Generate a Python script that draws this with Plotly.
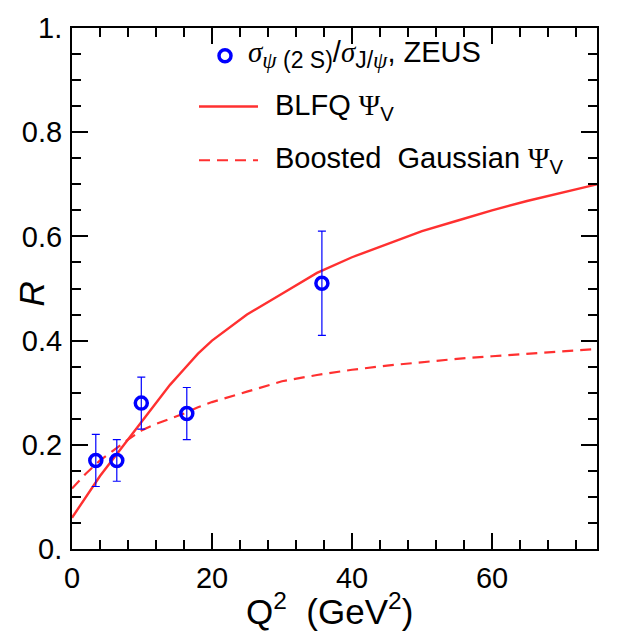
import plotly.graph_objects as go

# ---- data ----
q2_data = [3.4, 6.4, 9.9, 16.4, 35.7]
r_data = [0.17, 0.17, 0.28, 0.26, 0.51]
r_err_plus = [0.05, 0.04, 0.05, 0.05, 0.10]
r_err_minus = [0.05, 0.04, 0.05, 0.05, 0.10]

q2_curve = [0, 2, 4, 6, 8, 10, 12, 14, 16, 18, 20, 25, 30, 35, 40, 45, 50, 55, 60, 65, 70, 75]
r_blfq = [0.060, 0.100, 0.140, 0.175, 0.210, 0.245, 0.280, 0.315, 0.345, 0.375, 0.400,
          0.450, 0.490, 0.530, 0.560, 0.585, 0.610, 0.630, 0.650, 0.668, 0.684, 0.700]
r_gauss = [0.116, 0.145, 0.170, 0.190, 0.210, 0.228, 0.240, 0.250, 0.260, 0.272, 0.282,
           0.302, 0.322, 0.334, 0.344, 0.352, 0.359, 0.365, 0.370, 0.375, 0.380, 0.384]

x_tickvals = [0, 20, 40, 60]
x_ticktext = ["0", "20", "40", "60"]
y_tickvals = [0, 0.2, 0.4, 0.6, 0.8, 1.0]
y_ticktext = ["0.", "0.2", "0.4", "0.6", "0.8", "1."]

RED = "#ff3030"
BLUE = "#0000ff"
FONT = "Liberation Sans, Arial, sans-serif"
SERIF = "Liberation Serif, Times New Roman, serif"

W, H = 628, 632
L, R_, T, B = 72, 31, 25, 83
pw, ph = W - L - R_, H - T - B

def px(x):
    return (x - L) / pw

def py(y):
    return (H - B - y) / ph

fig = go.Figure()

fig.add_trace(go.Scatter(x=q2_curve, y=r_gauss, mode="lines",
                         line=dict(color=RED, width=2.2, dash="11px,7px"),
                         showlegend=False))
fig.add_trace(go.Scatter(x=q2_curve, y=r_blfq, mode="lines",
                         line=dict(color=RED, width=2.4),
                         showlegend=False))
fig.add_trace(go.Scatter(x=q2_data, y=r_data, mode="markers",
                         marker=dict(symbol="circle-open", size=12, color=BLUE,
                                     line=dict(width=3.5, color=BLUE)),
                         error_y=dict(type="data", symmetric=False, array=r_err_plus,
                                      arrayminus=r_err_minus, color=BLUE,
                                      thickness=1.2, width=4),
                         showlegend=False))
# invisible trace so that the mirrored (top/right) tick axes exist
fig.add_trace(go.Scatter(x=q2_data, y=r_data, xaxis="x2", yaxis="y2", mode="markers",
                         marker=dict(opacity=0), hoverinfo="skip", showlegend=False))

# ---- manual ROOT-style legend ----
shapes = [
    dict(type="circle", xref="paper", yref="paper", xsizemode="pixel", ysizemode="pixel",
         xanchor=px(225), yanchor=py(53), x0=-6, x1=6, y0=-6, y1=6,
         line=dict(color=BLUE, width=3.5)),
    dict(type="line", xref="paper", yref="paper", x0=px(199), x1=px(258), y0=py(104), y1=py(104),
         line=dict(color=RED, width=2.4)),
    dict(type="line", xref="paper", yref="paper", x0=px(199), x1=px(258), y0=py(158), y1=py(158),
         line=dict(color=RED, width=2.2, dash="11px,7px")),
]

leg_font = dict(family=FONT, size=29, color="black")
S = "font-size:23px"
annotations = [
    dict(xref="paper", yref="paper", x=px(246), y=py(52), xanchor="left", yanchor="middle",
         showarrow=False, font=leg_font,
         text=(f"<span style='font-family:{SERIF}'><i>σ</i></span>"
               f"<sub><span style='{S}'><span style='font-family:{SERIF}'><i>ψ</i></span> (2 S)</span></sub>"
               f"/<span style='font-family:{SERIF}'><i>σ</i></span>"
               f"<sub><span style='{S}'>J/<span style='font-family:{SERIF}'><i>ψ</i></span></span></sub>, ZEUS")),
    dict(xref="paper", yref="paper", x=px(273), y=py(104), xanchor="left", yanchor="middle",
         showarrow=False, font=leg_font,
         text=f"BLFQ <span style='font-family:{SERIF}'>Ψ</span><sub>V</sub>"),
    dict(xref="paper", yref="paper", x=px(273), y=py(158), xanchor="left", yanchor="middle",
         showarrow=False, font=leg_font,
         text=f"Boosted  Gaussian <span style='font-family:{SERIF}'>Ψ</span><sub>V</sub>"),
    # axis titles
    dict(xref="paper", yref="paper", x=px(329), y=py(609), xanchor="center", yanchor="middle",
         showarrow=False, font=dict(family=FONT, size=35, color="black"),
         text="Q<sup>2</sup>  (GeV<sup>2</sup>)"),
    dict(xref="paper", yref="paper", x=px(31), y=py(293), xanchor="center", yanchor="middle",
         showarrow=False, textangle=-90, font=dict(family=FONT, size=35, color="black"),
         text="<i>R</i>"),
]

def ticks():
    return dict(ticks="inside", ticklen=16, tickwidth=2, tickcolor="black")

def minor(dt):
    return dict(dtick=dt, tick0=0, ticks="inside", ticklen=9, tickwidth=2,
                tickcolor="black", showgrid=False)

tfont = dict(family=FONT, size=29, color="black")

fig.update_layout(
    width=W, height=H,
    margin=dict(l=L, r=R_, t=T, b=B),
    paper_bgcolor="white", plot_bgcolor="white",
    showlegend=False,
    shapes=shapes,
    annotations=annotations,
    xaxis=dict(range=[0, 75], tickmode="array", tickvals=x_tickvals, ticktext=x_ticktext,
               showgrid=False, zeroline=False, showline=True, linecolor="black", linewidth=2,
               mirror=True, tickfont=tfont, ticklabelstandoff=2,
               minor=minor(4), **ticks()),
    yaxis=dict(range=[0, 1.0], tickmode="array", tickvals=y_tickvals, ticktext=y_ticktext,
               showgrid=False, zeroline=False, showline=True, linecolor="black", linewidth=2,
               mirror=True, tickfont=tfont, ticklabelstandoff=2,
               minor=minor(0.05), **ticks()),
    xaxis2=dict(range=[0, 75], overlaying="x", side="top", anchor="y2", tickmode="array",
                tickvals=x_tickvals, showticklabels=False, showgrid=False, zeroline=False,
                showline=False, minor=minor(4), **ticks()),
    yaxis2=dict(range=[0, 1.0], overlaying="y", side="right", anchor="x2", tickmode="array",
                tickvals=y_tickvals, showticklabels=False, showgrid=False, zeroline=False,
                showline=False, minor=minor(0.05), **ticks()),
)

fig.write_html("out.html")
